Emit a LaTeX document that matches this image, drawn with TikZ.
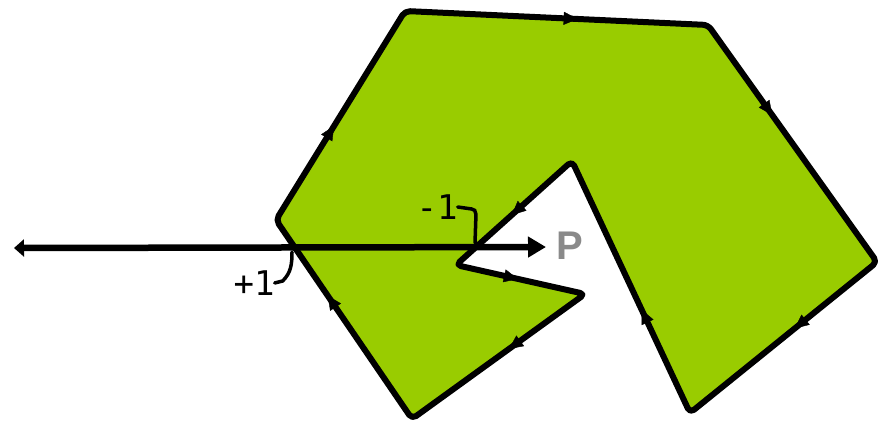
\documentclass[tikz,border=0pt]{standalone}
\usepackage{fontspec}
\newfontfamily\labfont{DejaVu Sans Mono}
\newfontfamily\pfont{Liberation Sans}
\usetikzlibrary{arrows.meta,decorations.markings}
\definecolor{polygreen}{HTML}{99CC00}
\definecolor{pgray}{HTML}{8A8A8A}
\tikzset{
  edge/.style={draw=black, line width=6pt, line join=round, rounded corners=5pt},
  midarrow/.style={postaction={decorate}, decoration={markings,
      mark=at position #1 with {\arrow{Triangle[length=14pt,width=13pt]}}}},
  ray/.style={line width=6.5pt, {Triangle[length=10pt,width=17pt]}-{Triangle[length=18pt,width=20pt]}},
  hook/.style={draw=black, line width=3.5pt, line cap=round},
  lab/.style={font=\labfont\fontsize{34}{36}\selectfont, inner sep=0pt, text=black},
}
\begin{document}
\begin{tikzpicture}[x=1pt,y=-1pt]
\useasboundingbox (0,0) rectangle (882,425);
\coordinate (A) at (276,220);
\coordinate (B) at (405,11);
\coordinate (C) at (708,25);
\coordinate (D) at (877,262);
\coordinate (E) at (690,413);
\coordinate (F) at (572,161);
\coordinate (G) at (456,265);
\coordinate (H) at (585,294);
\coordinate (I) at (412,419);
\fill[polygreen, rounded corners=5pt] (A) -- (B) -- (C) -- (D) -- (E) -- (F) -- (G) -- (H) -- (I) -- cycle;
\draw[edge] (A) -- (B) -- (C) -- (D) -- (E) -- (F) -- (G) -- (H) -- (I) -- cycle;
\path[midarrow=0.45] (A) -- (B);
\path[midarrow=0.57] (B) -- (C);
\path[midarrow=0.38] (C) -- (D);
\path[midarrow=0.44] (D) -- (E);
\path[midarrow=0.41] (E) -- (F);
\path[midarrow=0.52] (F) -- (G);
\path[midarrow=0.48] (G) -- (H);
\path[midarrow=0.44] (H) -- (I);
\path[midarrow=0.62] (I) -- (A);
% ray
\coordinate (R0) at (14,248);
\coordinate (R1) at (546,247);
\draw[ray] (R0) -- (R1);
\node[font=\pfont\bfseries\fontsize{40}{42}\selectfont, text=pgray, inner sep=0pt, anchor=west] (P) at (556,246) {P};
% crossing labels
\coordinate (X1) at (292,252);
\coordinate (X2) at (475,243);
\node[lab] (m1) at (437,207) {-1};
\node[lab] (p1) at (254,283) {+1};
\draw[hook] (m1.east) -- ++(14,2) to[out=0,in=90] ++(4,14) -- (X2);
\draw[hook] (p1.east) -- ++(8,-2) to[out=45,in=-90] (X1);
\end{tikzpicture}
\end{document}
